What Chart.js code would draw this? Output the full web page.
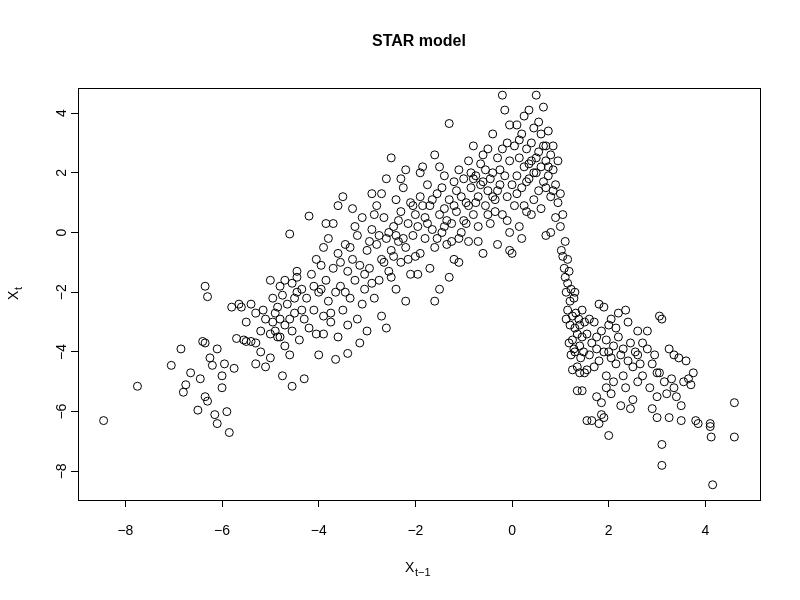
<!DOCTYPE html>
<html>
<head>
<meta charset="utf-8">
<script src="https://cdn.jsdelivr.net/npm/chart.js@4/dist/chart.umd.min.js"></script>
<style>
  html, body { margin: 0; padding: 0; background: #fff; }
  #wrap { width: 800px; height: 600px; }
</style>
</head>
<body>
<div id="wrap"><canvas id="starChart" width="800" height="600"></canvas></div>
<script>
// points as (x, y) pairs, X[t-1] vs X[t]
const points = [
  [-8.45,-6.3],[-7.75,-5.15],[-7.05,-4.45],[-6.85,-3.9],[-6.75,-5.1],[-6.8,-5.35],[-6.65,-4.7],[-6.5,-5.95],[-6.45,-4.9],[-6.4,-3.65],
  [-6.35,-3.7],[-6.35,-1.8],[-6.3,-2.15],[-6.35,-5.5],[-6.3,-5.65],[-6.25,-4.2],[-6.2,-4.45],[-6.15,-6.1],[-6.1,-6.4],[-6.1,-3.9],
  [-6.0,-4.8],[-6.0,-5.2],[-5.95,-4.4],[-5.9,-6.0],[-5.85,-6.7],[-5.75,-4.55],[-5.7,-3.55],[-5.65,-2.4],[-5.6,-2.5],[-5.55,-3.6],
  [-5.5,-3.65],[-5.4,-3.65],[-5.3,-3.7],[-5.3,-4.4],[-5.2,-4.0],[-5.15,-2.6],[-5.1,-4.5],[-5.0,-4.2],[-4.95,-2.2],[-4.9,-3.3],
  [-4.85,-3.5],[-4.8,-3.5],[-4.75,-4.8],[-4.7,-3.8],[-4.6,-2.9],[-4.55,-5.15],[-4.5,-2.2],[-4.45,-1.5],
  [-5.0,-3.4],[-4.95,-3.0],[-4.9,-2.7],[-4.85,-2.5],[-4.8,-1.8],[-4.75,-2.1],[-4.7,-3.1],[-4.65,-2.4],[-4.6,-4.1],[-4.55,-3.3],
  [-4.5,-2.7],[-4.45,-2.0],[-4.4,-3.6],[-4.35,-1.9],[-4.3,-2.9],[-4.3,-4.9],[-4.25,-2.2],[-4.2,-3.2],[-4.15,-1.4],[-4.1,-2.6],
  [-4.05,-3.4],[-4.0,-2.0],[-4.0,-4.1],[-3.95,-1.1],[-3.9,-2.8],[-3.9,-0.5],[-4.6,-0.05],[-4.45,-1.3],[-4.7,-1.6],[-4.8,-2.9],
  [-5.1,-2.9],[-5.2,-3.3],[-5.3,-2.7],[-5.4,-2.4],[-5.5,-3.0],[-5.8,-2.5],[-5.0,-1.6],[-4.2,0.55],[-4.05,-0.9],[-4.1,-1.8],
  [-4.35,-2.6],[-4.55,-1.7],
  [-3.85,-1.6],[-3.8,-2.3],[-3.8,-0.2],[-3.75,-3.0],[-3.7,-1.2],[-3.7,0.3],[-3.65,-2.0],[-3.6,-0.7],[-3.6,-3.5],[-3.55,-1.8],
  [-3.5,-2.6],[-3.5,1.2],[-3.45,-0.4],[-3.4,-1.3],[-3.4,-3.1],[-3.35,-2.2],[-3.3,0.8],[-3.3,-0.9],[-3.25,-1.6],[-3.2,-2.9],
  [-3.2,-0.1],[-3.15,-1.1],[-3.1,-2.4],[-3.1,0.5],[-3.05,-1.9],[-3.0,-0.6],[-3.0,-3.3],[-3.85,0.3],[-3.95,-1.9],[-3.75,-2.7],
  [-3.55,-1.0],[-3.45,-2.0],[-3.35,-0.5],[-3.25,0.2],[-3.65,-4.25],[-3.4,-4.05],[-3.15,-3.7],[-3.05,-1.4],[-3.9,-3.4],[-3.6,0.9],
  [-2.95,-1.2],[-2.9,0.1],[-2.9,1.3],[-2.85,-2.2],[-2.8,-0.4],[-2.8,0.9],[-2.75,-1.6],[-2.7,-0.9],[-2.7,-2.8],[-2.65,0.5],
  [-2.6,-0.2],[-2.6,1.8],[-2.55,-1.3],[-2.5,-0.6],[-2.5,2.5],[-2.45,0.2],[-2.4,-1.9],[-2.4,1.1],[-2.35,-0.3],[-2.3,-1.0],
  [-2.3,0.7],[-2.25,1.5],[-2.2,-0.5],[-2.2,-2.3],[-2.15,0.3],[-2.1,-1.4],[-2.1,1.0],[-2.05,-0.1],[-2.0,0.6],[-2.0,-0.8],
  [-2.95,-0.3],[-2.85,0.6],[-2.75,-0.1],[-2.65,-1.0],[-2.55,0.0],[-2.45,-0.8],[-2.35,0.4],[-2.25,-0.2],[-2.15,-0.9],[-2.05,0.9],
  [-2.6,-3.2],[-2.3,1.8],[-2.2,2.1],[-2.9,-1.7],[-2.7,1.3],[-2.4,-0.1],[-2.5,-1.5],
  [-1.95,0.2],[-1.9,1.2],[-1.9,-0.7],[-1.85,2.2],[-1.8,0.5],[-1.8,-0.2],[-1.75,1.6],[-1.7,-1.2],[-1.7,0.9],[-1.65,0.1],
  [-1.6,2.6],[-1.6,-0.5],[-1.55,1.3],[-1.5,0.6],[-1.5,-1.9],[-1.45,0.0],[-1.4,1.9],[-1.4,0.8],[-1.35,-0.4],[-1.3,1.1],
  [-1.3,3.65],[-1.25,0.3],[-1.2,1.7],[-1.2,-0.9],[-1.15,0.7],[-1.1,2.1],[-1.1,-0.2],[-1.05,1.2],[-1.0,0.4],[-1.0,1.8],
  [-1.95,-1.4],[-1.85,0.9],[-1.75,0.3],[-1.65,1.1],[-1.55,-0.2],[-1.45,1.5],[-1.35,0.4],[-1.25,-0.3],[-1.15,1.4],[-1.05,0.0],
  [-1.6,-2.3],[-1.3,-1.5],[-1.9,2.0],[-1.5,2.2],[-1.2,0.9],[-1.4,0.2],[-1.1,-1.0],
  [-0.95,1.0],[-0.9,2.4],[-0.9,-0.3],[-0.85,1.5],[-0.8,0.6],[-0.8,2.9],[-0.75,1.9],[-0.7,0.2],[-0.7,1.2],[-0.65,2.3],
  [-0.6,-0.7],[-0.6,1.7],[-0.55,0.9],[-0.5,2.8],[-0.5,1.4],[-0.45,0.3],[-0.4,2.0],[-0.4,3.3],[-0.35,1.1],[-0.3,-0.4],
  [-0.3,2.5],[-0.25,1.6],[-0.2,4.6],[-0.2,0.6],[-0.15,1.9],[-0.1,3.0],[-0.1,1.2],[-0.05,0.0],[-0.05,2.4],[0.0,1.6],
  [-0.95,0.3],[-0.85,2.0],[-0.75,1.0],[-0.65,1.6],[-0.55,2.1],[-0.45,1.8],[-0.35,0.7],[-0.25,2.1],[-0.15,4.1],[-0.05,3.6],
  [-0.9,0.9],[-0.7,-0.3],[-0.5,0.6],[-0.3,1.4],[-0.1,0.4],[-0.6,2.6],[-0.4,1.2],[-0.2,2.8],[-0.8,1.8],[-0.05,-0.6],
  [0.05,2.9],[0.05,0.9],[0.1,3.6],[0.1,1.9],[0.15,0.2],[0.15,2.5],[0.2,3.3],[0.2,1.5],[0.25,3.9],[0.25,2.2],
  [0.3,0.7],[0.3,2.8],[0.35,4.1],[0.35,1.8],[0.4,3.0],[0.4,2.4],[0.45,1.1],[0.45,3.5],[0.5,2.0],[0.5,4.6],
  [0.55,2.7],[0.55,1.4],[0.6,3.3],[0.6,2.2],[0.65,4.2],[0.65,1.7],[0.7,2.9],[0.7,2.4],[0.75,1.9],[0.75,3.4],
  [0.8,2.6],[0.8,1.2],[0.85,2.1],[0.85,2.9],[0.9,1.6],[0.9,0.5],[0.0,-0.7],[0.2,-0.2],[0.4,0.6],[0.6,0.8],
  [0.7,-0.1],[0.8,0.0],[0.1,1.3],[0.3,1.7],[0.5,2.5],[0.7,1.5],[0.15,3.1],[0.35,2.3],[0.55,3.7],[0.75,2.2],
  [0.25,0.9],[0.45,2.0],[0.65,2.9],[0.85,1.4],
  [0.95,1.0],[0.95,2.4],[1.0,0.2],[1.0,1.3],[1.02,-0.6],[1.05,-0.8],[1.05,0.6],[1.08,-1.2],[1.1,-1.5],[1.1,-0.3],
  [1.12,-2.0],[1.15,-1.7],[1.15,-2.6],[1.18,-1.3],[1.2,-2.3],[1.2,-3.1],[1.22,-1.9],[1.25,-2.8],[1.25,-3.6],[1.28,-2.2],
  [1.3,-3.2],[1.3,-4.0],[1.32,-2.7],[1.35,-3.4],[1.35,-4.5],[1.38,-2.9],[1.4,-3.8],[1.4,-3.1],[1.42,-4.2],[1.45,-3.5],
  [1.45,-2.6],[1.48,-4.0],[1.5,-3.0],[1.5,-4.7],[1.12,-2.9],[1.18,-3.7],[1.22,-4.1],[1.28,-3.9],[1.35,-5.3],[1.15,-0.9],
  [1.3,-2.0],[1.4,-4.7],[1.45,-5.3],[1.25,-4.6],
  [1.55,-3.4],[1.6,-4.1],[1.6,-2.9],[1.65,-3.7],[1.7,-4.5],[1.7,-3.0],[1.75,-5.5],[1.75,-3.9],[1.8,-2.4],[1.8,-4.3],
  [1.85,-3.3],[1.85,-5.7],[1.9,-4.0],[1.9,-2.5],[1.95,-4.8],[1.95,-3.6],[2.0,-3.1],[2.0,-6.8],[2.05,-4.2],[2.05,-2.9],
  [2.1,-3.8],[2.1,-5.0],[2.15,-4.4],[2.2,-2.7],[2.2,-3.5],[2.25,-4.1],[2.3,-4.8],[2.3,-3.9],[2.35,-5.2],[2.4,-4.3],
  [2.4,-3.0],[2.45,-3.7],[2.5,-4.5],[2.5,-5.6],[2.55,-4.0],[2.6,-3.3],[2.6,-5.0],[2.65,-4.4],[2.7,-4.8],[2.7,-3.7],
  [1.65,-6.3],[1.55,-6.3],[1.8,-6.4],[1.85,-6.1],[1.9,-6.2],[2.05,-5.4],[1.55,-4.6],[2.15,-3.2],[2.35,-2.6],[2.45,-5.9],
  [2.25,-5.8],[1.95,-5.2],[2.0,-4.0],[1.75,-3.5],[2.6,-4.1],
  [2.8,-3.9],[2.85,-5.2],[2.9,-4.4],[2.9,-5.9],[2.95,-4.1],[3.0,-5.5],[3.0,-6.2],[3.05,-4.7],[3.05,-2.8],[3.1,-2.9],
  [3.1,-7.1],[3.1,-7.8],[3.15,-5.0],[3.2,-5.4],[3.25,-3.9],[3.25,-6.2],[3.3,-4.9],[3.35,-4.1],[3.4,-5.5],[3.45,-4.2],
  [3.5,-5.8],[3.5,-6.3],[3.55,-5.0],[3.6,-4.3],[3.65,-4.9],[3.7,-5.1],[3.75,-4.7],[3.8,-6.3],[3.85,-6.4],[4.1,-6.4],
  [4.1,-6.5],[4.12,-6.85],[4.15,-8.45],[4.6,-5.7],[4.6,-6.85],[2.8,-3.3],[3.0,-4.7],[3.35,-5.2]
];
const xTicks = [-8, -6, -4, -2, 0, 2, 4];
const yTicks = [-8, -6, -4, -2, 0, 2, 4];
const xRange = [-8.98, 5.13];
const yRange = [-8.96, 4.84];

const FONT = '"Liberation Sans", Arial, Helvetica, sans-serif';

const rText = {
  id: 'rText',
  afterDraw(chart) {
    const { ctx, chartArea: a, scales: { x, y } } = chart;
    ctx.save();
    ctx.fillStyle = '#000';
    // title
    ctx.font = 'bold 16px ' + FONT;
    ctx.textAlign = 'center';
    ctx.textBaseline = 'middle';
    ctx.fillText('STAR model', (a.left + a.right) / 2, 42);
    // x tick labels
    ctx.font = '14px ' + FONT;
    xTicks.forEach(v => ctx.fillText(String(v).replace('-', '\u2212'), x.getPixelForValue(v), a.bottom + 31));
    // y tick labels, rotated
    yTicks.forEach(v => {
      ctx.save();
      ctx.translate(a.left - 16, y.getPixelForValue(v));
      ctx.rotate(-Math.PI / 2);
      ctx.fillText(String(v).replace('-', '\u2212'), 0, 0);
      ctx.restore();
    });
    // x axis title X_{t-1}
    const cx = (a.left + a.right) / 2;
    ctx.textAlign = 'left';
    ctx.font = '14px ' + FONT;
    ctx.fillText('X', cx - 14, 568);
    ctx.font = '11px ' + FONT;
    ctx.fillText('t\u22121', cx - 4, 573);
    // y axis title X_t
    ctx.save();
    ctx.translate(14, (a.top + a.bottom) / 2);
    ctx.rotate(-Math.PI / 2);
    ctx.font = '14px ' + FONT;
    ctx.fillText('X', -6, 0);
    ctx.font = '11px ' + FONT;
    ctx.fillText('t', 4, 5);
    ctx.restore();
    // box
    ctx.strokeStyle = '#000';
    ctx.lineWidth = 1;
    ctx.strokeRect(a.left + 0.5, a.top + 0.5, a.right - a.left, a.bottom - a.top);
    ctx.restore();
  }
};

new Chart(document.getElementById('starChart'), {
  type: 'scatter',
  data: {
    datasets: [{
      data: points.map(p => ({ x: p[0], y: p[1] })),
      pointRadius: 4,
      pointHoverRadius: 4,
      pointBorderWidth: 1,
      borderColor: '#000',
      backgroundColor: 'rgba(0,0,0,0)'
    }]
  },
  options: {
    responsive: false,
    animation: false,
    layout: { padding: { top: 88, right: 40, left: 0, bottom: 0 } },
    plugins: { legend: { display: false }, tooltip: { enabled: false } },
    scales: {
      x: {
        type: 'linear', min: xRange[0], max: xRange[1],
        afterBuildTicks: s => { s.ticks = xTicks.map(v => ({ value: v })); },
        afterFit: s => { s.height = 100; },
        ticks: { display: false },
        border: { display: false },
        grid: { drawOnChartArea: false, color: '#000', tickLength: 7, tickWidth: 1 }
      },
      y: {
        type: 'linear', min: yRange[0], max: yRange[1],
        afterBuildTicks: s => { s.ticks = yTicks.map(v => ({ value: v })); },
        afterFit: s => { s.width = 78; },
        ticks: { display: false },
        border: { display: false },
        grid: { drawOnChartArea: false, color: '#000', tickLength: 7, tickWidth: 1 }
      }
    }
  },
  plugins: [rText]
});
</script>
</body>
</html>
